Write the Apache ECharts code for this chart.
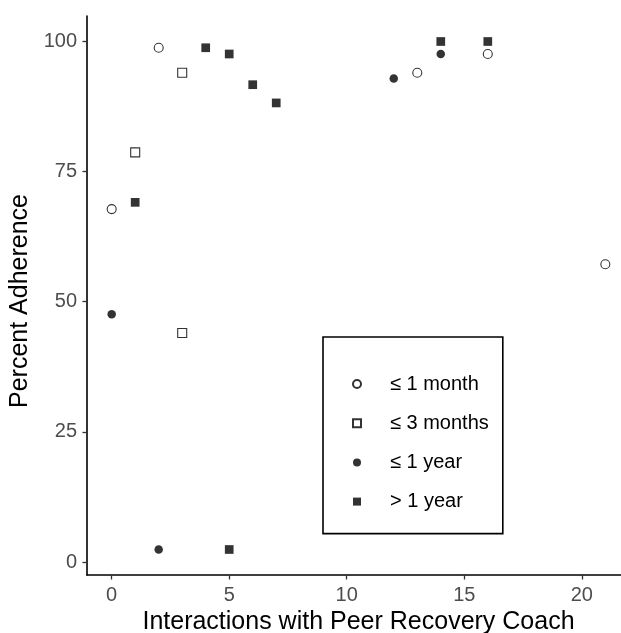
<!DOCTYPE html>
<html>
<head>
<meta charset="utf-8">
<script src="https://cdn.jsdelivr.net/npm/echarts@6/dist/echarts.min.js"></script>
<style>
html,body{margin:0;padding:0;background:#fff;}
#chart{width:621px;height:633px;}
</style>
</head>
<body>
<div id="chart"></div>
<script>
// Data
const seriesNames = ['≤ 1 month', '≤ 3 months', '≤ 1 year', '> 1 year'];
const month1X = [0, 2, 13, 16, 21];
const month1Y = [67.8, 98.8, 94.0, 97.6, 57.2];
const month3X = [1, 3, 3];
const month3Y = [78.7, 94.0, 44.0];
const year1X = [0, 2, 12, 14];
const year1Y = [47.6, 2.4, 92.9, 97.6];
const overX = [1, 4, 5, 6, 7, 5, 14, 16];
const overY = [69.1, 98.8, 97.6, 91.7, 88.2, 2.4, 100, 100];
const xTicks = [0, 5, 10, 15, 20];
const yTicks = [0, 25, 50, 75, 100];

function pairs(xs, ys) { return xs.map((x, i) => [x, ys[i]]); }

const FONT = 'Liberation Sans, Arial, sans-serif';
const chart = echarts.init(document.getElementById('chart'), null, {renderer: 'canvas'});

const openStyle = {color: '#ffffff', borderColor: '#000000', borderWidth: 1.1};
const fillStyle = {color: '#000000', borderWidth: 0};

chart.setOption({
  animation: false,
  backgroundColor: '#ffffff',
  grid: {left: 87, right: -9, top: 16, bottom: 58, containLabel: false, outerBoundsMode: 'none'},
  xAxis: {
    type: 'value', min: -1.05, max: 22.05,
    name: 'Interactions with Peer Recovery Coach',
    nameLocation: 'middle', nameGap: 35,
    nameTextStyle: {fontFamily: FONT, fontSize: 25, color: '#000'},
    axisLine: {show: true, onZero: false, lineStyle: {color: '#000', width: 1.6}},
    axisTick: {show: true, customValues: xTicks, length: 4.5, lineStyle: {color: '#333', width: 1.3}},
    axisLabel: {customValues: xTicks, margin: 10, fontFamily: FONT, fontSize: 20, color: '#4D4D4D'},
    splitLine: {show: false}
  },
  yAxis: {
    type: 'value', min: -2.5, max: 104.9,
    name: 'Percent Adherence',
    nameLocation: 'middle', nameGap: 45,
    nameTextStyle: {fontFamily: FONT, fontSize: 25, color: '#000', padding: [0, 11, 0, 0]},
    axisLine: {show: true, onZero: false, lineStyle: {color: '#000', width: 1.6}},
    axisTick: {show: true, customValues: yTicks, length: 4.5, lineStyle: {color: '#333', width: 1.3}},
    axisLabel: {customValues: yTicks, margin: 10, fontFamily: FONT, fontSize: 20, color: '#4D4D4D'},
    splitLine: {show: false}
  },
  legend: {
    orient: 'vertical',
    left: 323, top: 337,
    data: seriesNames,
    padding: [37, 14, 22, 29],
    itemWidth: 8, itemHeight: 8, itemGap: 19.2,
    borderColor: '#000', borderWidth: 1.6, borderRadius: 0,
    backgroundColor: '#fff',
    textStyle: {fontFamily: FONT, fontSize: 20, color: '#000', lineHeight: 20, padding: [0, 0, 0, 24]}
  },
  series: [
    {name: seriesNames[0], type: 'scatter', symbol: 'circle', symbolSize: 9, itemStyle: openStyle, data: pairs(month1X, month1Y)},
    {name: seriesNames[1], type: 'scatter', symbol: 'rect', symbolSize: 9, itemStyle: openStyle, data: pairs(month3X, month3Y)},
    {name: seriesNames[2], type: 'scatter', symbol: 'circle', symbolSize: 8.5, itemStyle: fillStyle, data: pairs(year1X, year1Y)},
    {name: seriesNames[3], type: 'scatter', symbol: 'rect', symbolSize: 8.7, itemStyle: fillStyle, data: pairs(overX, overY)}
  ]
});
</script>
</body>
</html>
